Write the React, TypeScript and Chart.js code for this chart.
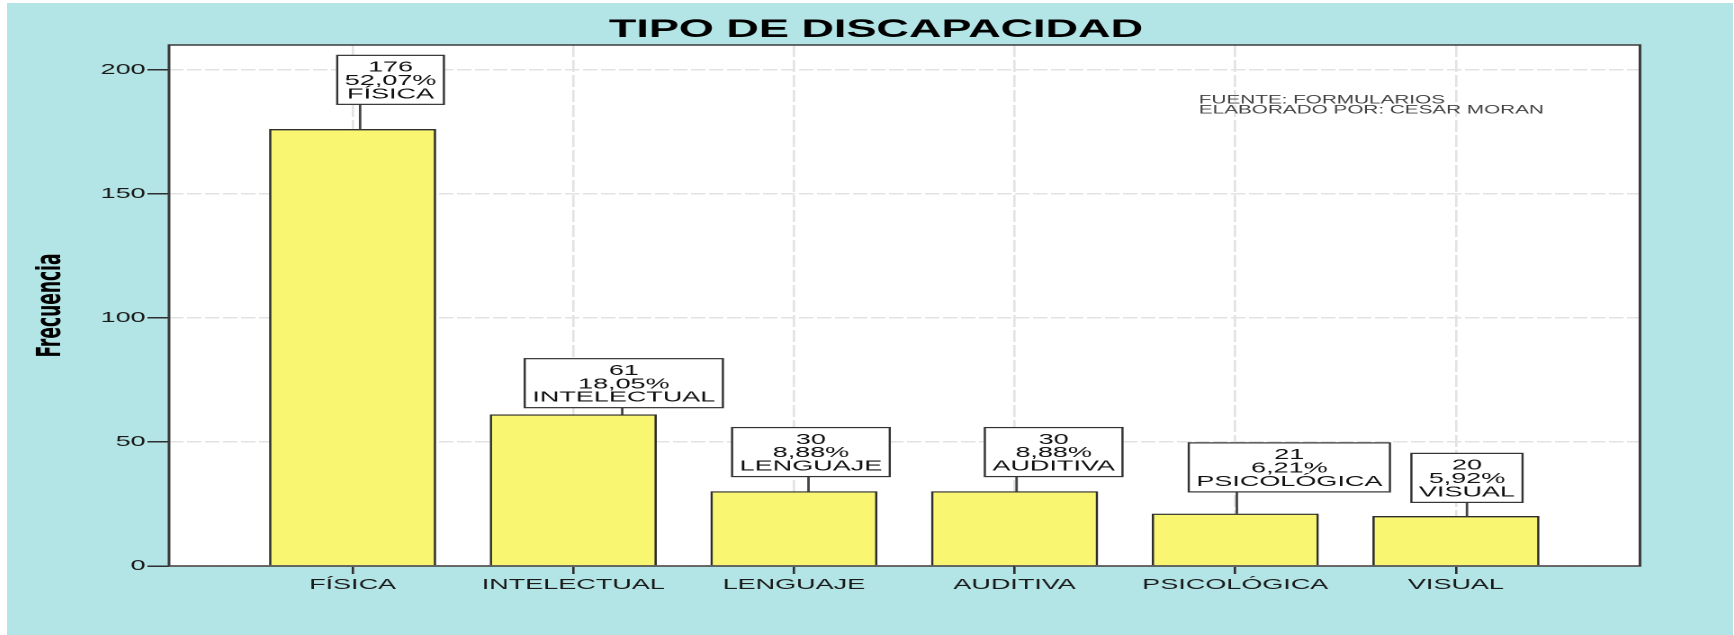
import React, { useEffect, useRef } from 'react';
import { Chart, registerables } from 'chart.js';

Chart.register(...registerables);

// ---------- data ----------
const categories = ['FÍSICA', 'INTELECTUAL', 'LENGUAJE', 'AUDITIVA', 'PSICOLÓGICA', 'VISUAL'];
const frequencies = [176, 61, 30, 30, 21, 20];
const percentLabels = ['52,07%', '18,05%', '8,88%', '8,88%', '6,21%', '5,92%'];
const yTickValues = [0, 50, 100, 150, 200];
const chartTitle = 'TIPO DE DISCAPACIDAD';
const yAxisTitle = 'Frecuencia';
const sourceLines = ['FUENTE: FORMULARIOS', 'ELABORADO POR: CESAR MORAN'];

// ---------- layout (label placement, in category units / px) ----------
const boxOffsetX = [0.172, 0.229, 0.077, 0.177, 0.245, 0.05];
const connectorOffsetX = [0.034, 0.222, 0.066, 0.009, 0.007, 0.05];
const boxGapPx = [25, 7, 15, 15, 22, 14];
const sourcePos = { x: 3.835, y: 187.6 };

const STRETCH = 1.8;
const CONTAINER_W = (1734 - 7) / STRETCH;
const TITLE_CENTER_X = (876 - 7) / STRETCH;
const CYAN = '#b4e5e6';
const BAR_FILL = '#f9f672';
const DARK = '#2e2e2e';
const GRID = '#e3e3e3';
const FONT = "'Liberation Sans', Arial, sans-serif";
const NARROW = "'Liberation Sans Narrow', 'DejaVu Sans Condensed', 'Arial Narrow', sans-serif";

const backgroundPlugin = {
  id: 'bgPlot',
  beforeDraw(chart: any) {
    const { ctx, width, height, chartArea: a } = chart;
    ctx.save();
    ctx.fillStyle = CYAN;
    ctx.fillRect(0, 0, width, height);
    ctx.fillStyle = '#ffffff';
    ctx.fillRect(a.left, a.top, a.right - a.left, a.bottom - a.top);
    // chart title
    ctx.fillStyle = '#000';
    ctx.font = `bold 25px ${FONT}`;
    ctx.textAlign = 'center';
    ctx.textBaseline = 'middle';
    ctx.fillText(chartTitle, TITLE_CENTER_X, 27);
    ctx.restore();
  },
  afterDraw(chart: any) {
    const { ctx, chartArea: a } = chart;
    ctx.save();
    ctx.strokeStyle = '#3a3a3a';
    ctx.lineWidth = 1.5;
    ctx.strokeRect(a.left, a.top, a.right - a.left, a.bottom - a.top);
    ctx.restore();
  },
};

const labelPlugin = {
  id: 'barLabels',
  afterDatasetsDraw(chart: any) {
    const { ctx, scales } = chart;
    const xs = scales.x;
    const ys = scales.y;
    ctx.save();
    ctx.font = `15px ${FONT}`;
    const boxH = 49;
    const lineGap = 13.3;
    const pad = 4.2;
    frequencies.forEach((v, i) => {
      const barTop = ys.getPixelForValue(v);
      const boxBottom = barTop - boxGapPx[i];
      const boxTop = boxBottom - boxH;
      const cx = xs.getPixelForValue(i + boxOffsetX[i]);
      const connX = xs.getPixelForValue(i + connectorOffsetX[i]);
      const lines = [String(v), percentLabels[i], categories[i]];
      const w = Math.max(...lines.map((l) => ctx.measureText(l).width)) + pad * 2;
      // connector
      ctx.strokeStyle = '#444';
      ctx.lineWidth = 1.4;
      ctx.beginPath();
      ctx.moveTo(connX, barTop);
      ctx.lineTo(connX, boxBottom);
      ctx.stroke();
      // box
      ctx.fillStyle = '#ffffff';
      ctx.fillRect(cx - w / 2, boxTop, w, boxH);
      ctx.strokeStyle = '#333';
      ctx.lineWidth = 1.2;
      ctx.strokeRect(cx - w / 2, boxTop, w, boxH);
      // text
      ctx.fillStyle = '#111';
      ctx.textAlign = 'center';
      ctx.textBaseline = 'middle';
      const cy = boxTop + boxH / 2;
      lines.forEach((l, k) => ctx.fillText(l, cx, cy + (k - 1) * lineGap + 1));
    });
    // source note
    ctx.font = `11.5px ${FONT}`;
    ctx.fillStyle = '#444';
    ctx.textAlign = 'left';
    ctx.textBaseline = 'middle';
    const sx = xs.getPixelForValue(sourcePos.x);
    const sy = ys.getPixelForValue(sourcePos.y);
    sourceLines.forEach((l, k) => ctx.fillText(l, sx, sy + k * 10));
    ctx.restore();
  },
};

export default function App() {
  const canvasRef = useRef<HTMLCanvasElement | null>(null);

  useEffect(() => {
    if (!canvasRef.current) return;
    const chart = new Chart(canvasRef.current, {
      type: 'bar',
      data: {
        datasets: [
          {
            label: yAxisTitle,
            data: frequencies.map((v, i) => ({ x: i, y: v })),
            backgroundColor: BAR_FILL,
            borderColor: DARK,
            borderWidth: 1.3,
            barThickness: 92.2,
          },
        ],
      },
      options: {
        animation: false,
        responsive: true,
        maintainAspectRatio: false,
        devicePixelRatio: 2,
        layout: { padding: { left: 0, right: 52.2, top: 42, bottom: 0 } },
        plugins: {
          legend: { display: false },
          tooltip: { enabled: false },
          title: { display: false },
        },
        scales: {
          x: {
            type: 'linear',
            min: -0.832,
            max: 5.834,
            offset: false,
            afterBuildTicks: (scale: any) => {
              scale.ticks = categories.map((_, i) => ({ value: i }));
            },
            afterFit: (scale: any) => {
              scale.height = 69;
            },
            ticks: {
              autoSkip: false,
              maxRotation: 0,
              padding: 2,
              color: '#1a1a1a',
              font: { family: FONT, size: 15 },
              callback: (v: any) => categories[v] ?? '',
            },
            grid: {
              offset: false,
              color: GRID,
              lineWidth: 1.3,
              tickLength: 8,
              tickColor: DARK,
              tickWidth: 1.3,
              tickBorderDash: [],
            },
            border: { display: false, dash: [12, 3] },
          },
          y: {
            min: 0,
            max: 210,
            afterBuildTicks: (scale: any) => {
              scale.ticks = yTickValues.map((v) => ({ value: v }));
            },
            afterFit: (scale: any) => {
              scale.width = 90;
            },
            ticks: {
              padding: 1,
              color: '#1a1a1a',
              font: { family: FONT, size: 15 },
            },
            grid: {
              color: GRID,
              lineWidth: 1.5,
              tickLength: 12,
              tickColor: DARK,
              tickWidth: 1.5,
              tickBorderDash: [],
            },
            border: { display: false, dash: [8, 2] },
            title: {
              display: true,
              text: yAxisTitle,
              color: '#000',
              font: { family: NARROW, size: 19, weight: 'bold' },
              padding: { top: 13.3, bottom: 0 },
            },
          },
        },
      } as any,
      plugins: [backgroundPlugin, labelPlugin],
    });
    return () => chart.destroy();
  }, []);

  return (
    <div
      style={{
        position: 'fixed',
        left: 7,
        top: 3,
        width: `${CONTAINER_W}px`,
        height: '632px',
        transform: `scaleX(${STRETCH})`,
        transformOrigin: '0 0',
      }}
    >
      <canvas ref={canvasRef} />
    </div>
  );
}
